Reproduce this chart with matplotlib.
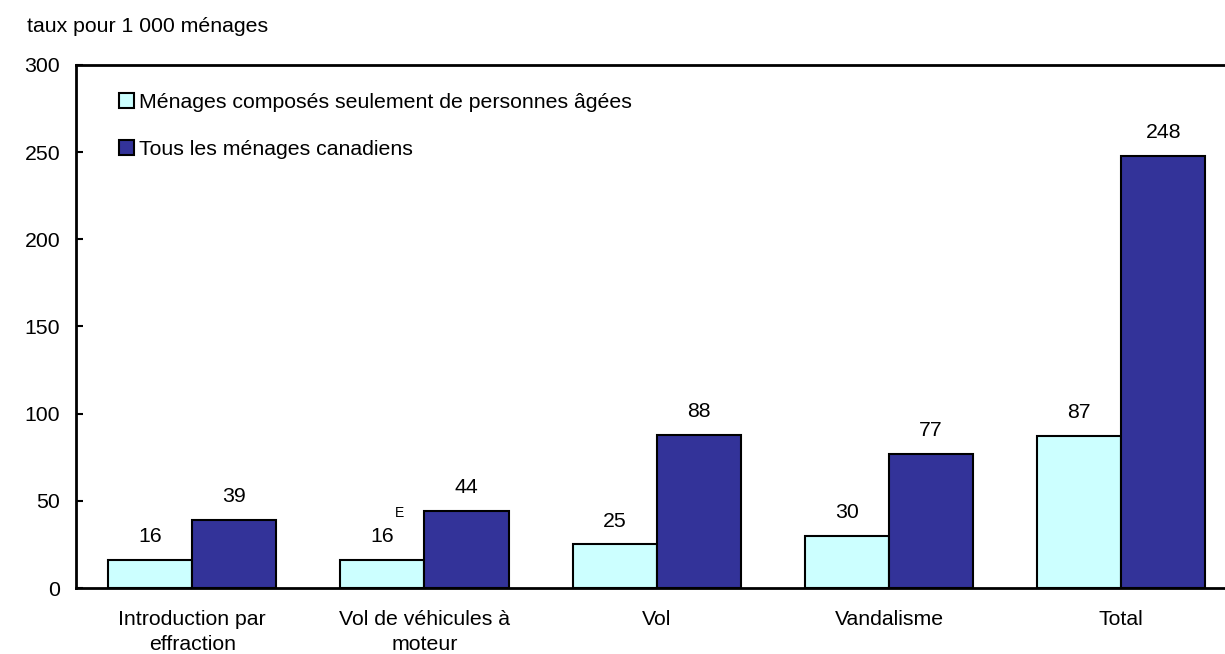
import matplotlib
matplotlib.use("Agg")
import matplotlib.pyplot as plt
import numpy as np

categories = ["Introduction par\neffraction", "Vol de véhicules à\nmoteur", "Vol", "Vandalisme", "Total"]
seniors = [16, 16, 25, 30, 87]
all_households = [39, 44, 88, 77, 248]
seniors_labels = ["16", "16", "25", "30", "87"]
all_labels = ["39", "44", "88", "77", "248"]
series_names = ["Ménages composés seulement de personnes âgées", "Tous les ménages canadiens"]
y_ticks = [0, 50, 100, 150, 200, 250, 300]
y_title = "taux pour 1 000 ménages"

plt.rcParams['font.family'] = ['Liberation Sans', 'DejaVu Sans']
FS = 15.3

fig = plt.figure(figsize=(12.25, 6.54), dpi=100)
ax = fig.add_axes([76/1225, 66/654, (1237.5-76)/1225, 523/654])

x = np.arange(len(categories))
w = 0.362
ax.bar(x - w/2, seniors, w, color="#CCFFFF", edgecolor="black", linewidth=1.5, label=series_names[0])
ax.bar(x + w/2, all_households, w, color="#333399", edgecolor="black", linewidth=1.5, label=series_names[1])

for xi, v, lab in zip(x - w/2, seniors, seniors_labels):
    ax.annotate(lab, (xi, v), xytext=(0, 10), textcoords="offset points", ha="center", va="bottom", fontsize=FS)
for xi, v, lab in zip(x + w/2, all_households, all_labels):
    ax.annotate(lab, (xi, v), xytext=(0, 10), textcoords="offset points", ha="center", va="bottom", fontsize=FS)

# superscript E on second category seniors value
ax.annotate("E", (x[1] - w/2, seniors[1]), xytext=(12, 29), textcoords="offset points", ha="center", va="bottom", fontsize=10)

ax.set_xlim(-0.5, len(categories) - 0.5)
ax.set_ylim(0, 300)
ax.set_yticks(y_ticks)
ax.set_xticks(x)
ax.set_xticklabels(categories, fontsize=FS, linespacing=1.4)
ax.tick_params(axis="x", length=0, labelsize=FS, pad=15.5)
ax.tick_params(axis="y", direction="in", length=5, width=1.5, labelsize=FS, pad=11.5)
for s in ["left", "top", "bottom"]:
    ax.spines[s].set_linewidth(2)
ax.spines["right"].set_visible(False)

ax.legend(loc="upper left", bbox_to_anchor=(0.0295, 0.962), frameon=False, fontsize=FS,
          handlelength=0.7, handleheight=0.7, handletextpad=0.25, labelspacing=1.3, borderaxespad=0)

fig.text(27/1225, 1 - 27/654, y_title, fontsize=FS, ha="left", va="center")

fig.savefig("out.png", dpi=100)
